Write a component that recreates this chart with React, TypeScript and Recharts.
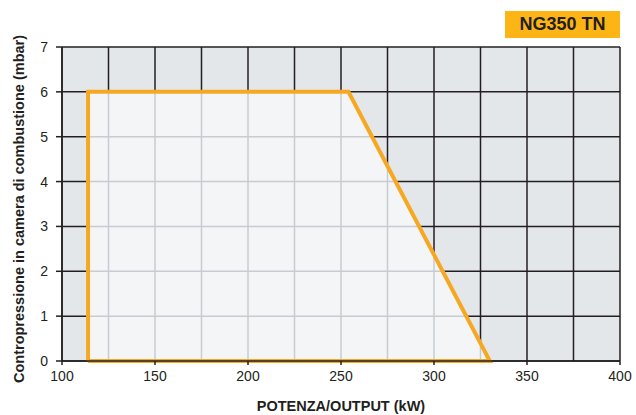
import {
  Area,
  CartesianGrid,
  ComposedChart,
  Label,
  Line,
  ReferenceLine,
  XAxis,
  YAxis,
} from 'recharts'

// operating field outline (kW, mbar), closed loop
const outlineKw = [114, 114, 254, 330, 114]
const outlineMbar = [0, 6, 6, 0, 0]

const xTicks = [100, 150, 200, 250, 300, 350, 400]
const yTicks = [0, 1, 2, 3, 4, 5, 6, 7]
const gridKw = [100, 125, 150, 175, 200, 225, 250, 275, 300, 325, 350, 375, 400]
const gridMbar = [0, 1, 2, 3, 4, 5, 6, 7]

const title = 'NG350 TN'
const xTitle = 'POTENZA/OUTPUT (kW)'
const yTitle = 'Contropressione in camera di combustione (mbar)'

const FONT = '"Liberation Sans", Arial, Helvetica, sans-serif'
const INK = '#231f20'
const ORANGE = '#f7a823'

const outline = outlineKw.map((kw, i) => ({ kw, mbar: outlineMbar[i] }))
const fieldArea = outline.slice(0, 4)

// light grid lines, kept inside the operating field
const [, , corner, tail] = fieldArea
const topAt = (kw: number) =>
  kw <= corner.kw ? corner.mbar : (corner.mbar * (tail.kw - kw)) / (tail.kw - corner.kw)
const rightAt = (mbar: number) =>
  tail.kw - ((tail.kw - corner.kw) * mbar) / corner.mbar

const innerVertical = gridKw.filter((kw) => kw > outlineKw[0] && kw < tail.kw)
const innerHorizontal = gridMbar.filter((m) => m > 0 && m < corner.mbar)

export default function App() {
  const tickStyle = { fontSize: 14, fill: INK, fontFamily: FONT }
  return (
    <div style={{ position: 'absolute', left: 0, top: 0, width: 636, height: 415 }}>
      <div
        style={{
          position: 'absolute',
          left: 505,
          top: 11,
          width: 115,
          height: 27,
          background: '#fdb515',
          display: 'flex',
          alignItems: 'center',
          justifyContent: 'center',
          fontFamily: FONT,
          fontWeight: 700,
          fontSize: 18,
          color: INK,
        }}
      >
        {title}
      </div>
      <ComposedChart
        width={636}
        height={415}
        margin={{ top: 47, right: 16, bottom: 0, left: 0 }}
      >
        <CartesianGrid
          fill="#e4e7ea"
          fillOpacity={1}
          stroke={INK}
          strokeWidth={1.5}
          verticalValues={gridKw}
          horizontalValues={gridMbar}
        />
        <XAxis
          dataKey="kw"
          type="number"
          domain={[100, 400]}
          ticks={xTicks}
          allowDataOverflow
          height={54}
          tickSize={4}
          tickMargin={6}
          tick={tickStyle}
          stroke={INK}
          strokeWidth={1.5}
        >
          <Label
            content={({ viewBox }: any) => (
              <text
                x={viewBox.x + viewBox.width / 2}
                y={viewBox.y + 50}
                textAnchor="middle"
                fontFamily={FONT}
                fontWeight={700}
                fontSize={14.5}
                fill={INK}
              >
                {xTitle}
              </text>
            )}
          />
        </XAxis>
        <YAxis
          dataKey="mbar"
          type="number"
          domain={[0, 7]}
          ticks={yTicks}
          width={62}
          tickSize={6}
          tickMargin={8}
          tick={tickStyle}
          stroke={INK}
          strokeWidth={1.5}
        >
          <Label
            content={({ viewBox }: any) => (
              <text
                x={24}
                y={viewBox.y + viewBox.height / 2 + 5}
                transform={`rotate(-90, 24, ${viewBox.y + viewBox.height / 2 + 5})`}
                textAnchor="middle"
                fontFamily={FONT}
                fontWeight={700}
                fontSize={14.5}
                fill={INK}
              >
                {yTitle}
              </text>
            )}
          />
        </YAxis>
        <Area
          data={fieldArea}
          dataKey="mbar"
          type="linear"
          stroke="none"
          fill="#f4f5f7"
          fillOpacity={1}
          baseValue={0}
          isAnimationActive={false}
        />
        {innerVertical.map((kw) => (
          <ReferenceLine
            key={`v${kw}`}
            segment={[
              { x: kw, y: 0 },
              { x: kw, y: topAt(kw) },
            ]}
            stroke="#c6ccd1"
            strokeWidth={1.5}
          />
        ))}
        {innerHorizontal.map((m) => (
          <ReferenceLine
            key={`h${m}`}
            segment={[
              { x: outlineKw[0], y: m },
              { x: rightAt(m), y: m },
            ]}
            stroke="#c6ccd1"
            strokeWidth={1.5}
          />
        ))}
        <Line
          data={outline}
          dataKey="mbar"
          type="linear"
          stroke={ORANGE}
          strokeWidth={4}
          strokeLinejoin="miter"
          dot={false}
          activeDot={false}
          isAnimationActive={false}
        />
      </ComposedChart>
    </div>
  )
}
